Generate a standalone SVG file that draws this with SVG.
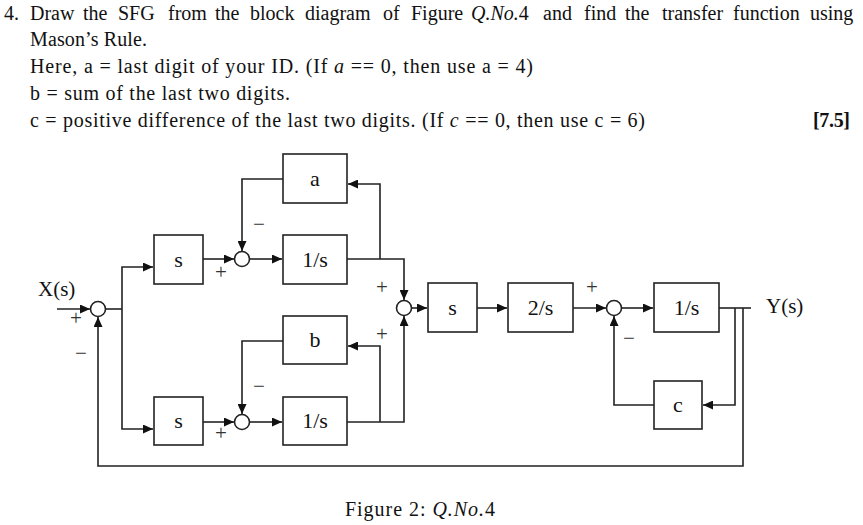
<svg xmlns="http://www.w3.org/2000/svg" width="863" height="525" viewBox="0 0 863 525">
<style>
text{font-family:"Liberation Serif","Times New Roman",serif;fill:#111}
.q{font-size:20px}
.lbl{font-size:22px;text-anchor:middle}
.sg{font-size:21px;text-anchor:middle;fill:#333}
.bx{fill:#fff;stroke:#222;stroke-width:1.6}
.jn{fill:#fff;stroke:#222;stroke-width:1.6}
.ln{fill:none;stroke:#222;stroke-width:1.6}
</style>
<defs>
<marker id="ah" markerWidth="11" markerHeight="9" refX="10" refY="4.5" orient="auto" markerUnits="userSpaceOnUse">
<path d="M0,0 L10,4.5 L0,9 z" fill="#111"/>
</marker>
</defs>
<rect width="863" height="525" fill="#fff"/>

<g id="question">
<text class="q" y="20"><tspan x="4">4.</tspan><tspan x="30">Draw</tspan><tspan x="83">the</tspan><tspan x="118">SFG</tspan><tspan x="168">from</tspan><tspan x="215">the</tspan><tspan x="250">block</tspan><tspan x="305">diagram</tspan><tspan x="383">of</tspan><tspan x="411">Figure</tspan><tspan x="471" font-style="italic">Q.No.</tspan><tspan>4</tspan><tspan x="543">and</tspan><tspan x="584">find</tspan><tspan x="625">the</tspan><tspan x="662">transfer</tspan><tspan x="733">function</tspan><tspan x="810">using</tspan></text>
<text class="q" x="30" y="46" textLength="117" lengthAdjust="spacing">Mason’s Rule.</text>
<text class="q" x="30" y="73" textLength="503" lengthAdjust="spacing">Here, a = last digit of your ID. (If <tspan font-style="italic">a</tspan> == 0, then use a = 4)</text>
<text class="q" x="30" y="100" textLength="260" lengthAdjust="spacing">b = sum of the last two digits.</text>
<text class="q" x="30" y="127" textLength="615" lengthAdjust="spacing">c = positive difference of the last two digits. (If <tspan font-style="italic">c</tspan> == 0, then use c = 6)</text>
<text class="q" x="813" y="127" font-weight="bold" textLength="37" lengthAdjust="spacing">[7.5]</text>
</g>

<g id="connectors">
<path class="ln" d="M57,309 H90" marker-end="url(#ah)"/>
<path class="ln" d="M106,309 H122"/>
<path class="ln" d="M122,309 V267 H153" marker-end="url(#ah)"/>
<path class="ln" d="M122,309 V429 H153" marker-end="url(#ah)"/>
<path class="ln" d="M203,259 H234" marker-end="url(#ah)"/>
<path class="ln" d="M250,259 H282" marker-end="url(#ah)"/>
<path class="ln" d="M347,259 H404 V300" marker-end="url(#ah)"/>
<path class="ln" d="M380,259 V184 H348" marker-end="url(#ah)"/>
<path class="ln" d="M283,179 H242 V251" marker-end="url(#ah)"/>
<path class="ln" d="M203,422 H234" marker-end="url(#ah)"/>
<path class="ln" d="M250,422 H282" marker-end="url(#ah)"/>
<path class="ln" d="M347,422 H404 V316" marker-end="url(#ah)"/>
<path class="ln" d="M380,422 V346 H348" marker-end="url(#ah)"/>
<path class="ln" d="M283,341 H242 V414" marker-end="url(#ah)"/>
<path class="ln" d="M412,308 H427" marker-end="url(#ah)"/>
<path class="ln" d="M477,308 H507" marker-end="url(#ah)"/>
<path class="ln" d="M573,308 H606" marker-end="url(#ah)"/>
<path class="ln" d="M622,308 H653" marker-end="url(#ah)"/>
<path class="ln" d="M719,308 H751"/>
<path class="ln" d="M735,308 V405 H703" marker-end="url(#ah)"/>
<path class="ln" d="M654,405 H614 V316" marker-end="url(#ah)"/>
<path class="ln" d="M743,308 V466 H98 V317" marker-end="url(#ah)"/>
</g>

<g id="J0"><circle class="jn" cx="98" cy="309" r="7.5"/></g>
<g id="J1"><circle class="jn" cx="242" cy="259" r="7.5"/></g>
<g id="J2"><circle class="jn" cx="242" cy="422" r="7.5"/></g>
<g id="J3"><circle class="jn" cx="404" cy="308" r="7.5"/></g>
<g id="J4"><circle class="jn" cx="614" cy="308" r="7.5"/></g>

<g id="blk-a"><rect class="bx" x="283" y="154" width="64" height="49"/><text class="lbl" x="315" y="186">a</text></g>
<g id="blk-inv-top"><rect class="bx" x="283" y="235" width="64" height="49"/><text class="lbl" x="315" y="267">1/s</text></g>
<g id="blk-s-top"><rect class="bx" x="154" y="235" width="49" height="49"/><text class="lbl" x="178.5" y="267">s</text></g>
<g id="blk-b"><rect class="bx" x="283" y="316" width="64" height="48"/><text class="lbl" x="315" y="347">b</text></g>
<g id="blk-inv-bot"><rect class="bx" x="283" y="397" width="64" height="48"/><text class="lbl" x="315" y="428">1/s</text></g>
<g id="blk-s-bot"><rect class="bx" x="154" y="397" width="49" height="48"/><text class="lbl" x="178.5" y="428">s</text></g>
<g id="blk-s-mid"><rect class="bx" x="428" y="283" width="49" height="49"/><text class="lbl" x="452.5" y="315">s</text></g>
<g id="blk-2s"><rect class="bx" x="508" y="283" width="65" height="49"/><text class="lbl" x="540.5" y="315">2/s</text></g>
<g id="blk-inv-right"><rect class="bx" x="654" y="283" width="65" height="49"/><text class="lbl" x="686.5" y="315">1/s</text></g>
<g id="blk-c"><rect class="bx" x="654" y="381" width="48" height="48"/><text class="lbl" x="678" y="412">c</text></g>

<g id="labels">
<text x="38" y="296" font-size="21">X(s)</text>
<text x="766" y="313" font-size="21">Y(s)</text>
<text class="sg" x="76" y="325">+</text>
<text class="sg" x="81" y="360">−</text>
<text class="sg" x="221" y="279">+</text>
<text class="sg" x="259" y="231">−</text>
<text class="sg" x="221" y="440">+</text>
<text class="sg" x="259" y="393">−</text>
<text class="sg" x="382" y="294">+</text>
<text class="sg" x="382" y="341">+</text>
<text class="sg" x="592" y="294">+</text>
<text class="sg" x="629" y="345">−</text>
<text x="345" y="516" font-size="20" textLength="150" lengthAdjust="spacing">Figure 2: <tspan font-style="italic">Q.No.</tspan>4</text>
</g>
</svg>
